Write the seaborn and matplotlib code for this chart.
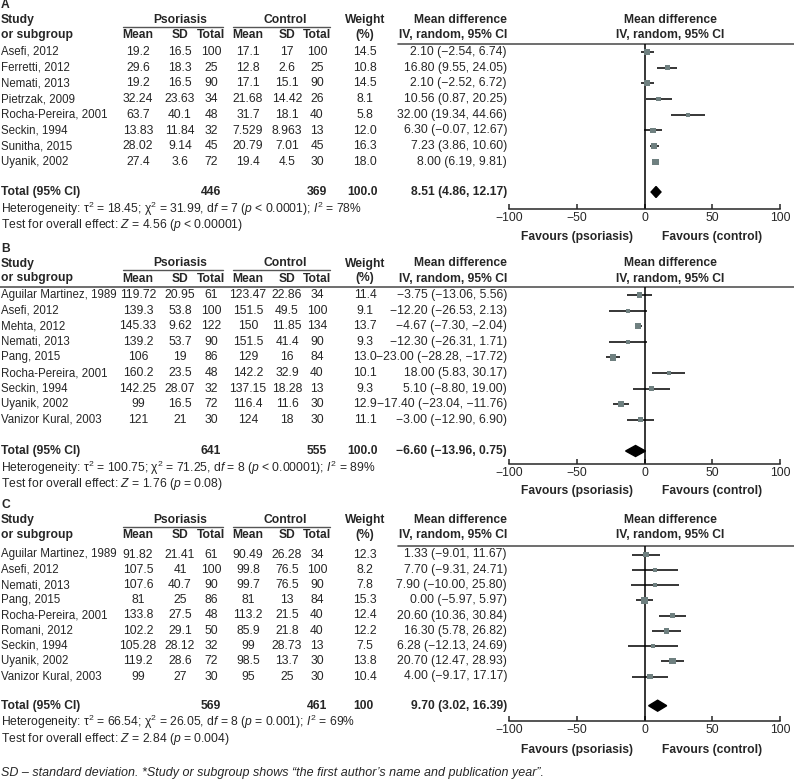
import matplotlib
matplotlib.use('Agg')
import matplotlib.pyplot as plt
import seaborn as sns
from matplotlib import font_manager

# Panel A
a_study = ['Asefi, 2012', 'Ferretti, 2012', 'Nemati, 2013', 'Pietrzak, 2009',
           'Rocha-Pereira, 2001', 'Seckin, 1994', 'Sunitha, 2015', 'Uyanik, 2002']
a_ps_mean = [19.2, 29.6, 19.2, 32.24, 63.7, 13.83, 28.02, 27.4]
a_ps_sd = [16.5, 18.3, 16.5, 23.63, 40.1, 11.84, 9.14, 3.6]
a_ps_n = [100, 25, 90, 34, 48, 32, 45, 72]
a_ct_mean = [17.1, 12.8, 17.1, 21.68, 31.7, 7.529, 20.79, 19.4]
a_ct_sd = [17, 2.6, 15.1, 14.42, 18.1, 8.963, 7.01, 4.5]
a_ct_n = [100, 25, 90, 26, 40, 13, 45, 30]
a_weight = [14.5, 10.8, 14.5, 8.1, 5.8, 12.0, 16.3, 18.0]
a_md = [2.10, 16.80, 2.10, 10.56, 32.00, 6.30, 7.23, 8.00]
a_lo = [-2.54, 9.55, -2.52, 0.87, 19.34, -0.07, 3.86, 6.19]
a_hi = [6.74, 24.05, 6.72, 20.25, 44.66, 12.67, 10.60, 9.81]
a_total = ['446', '369', '100.0']
a_pooled = [8.51, 4.86, 12.17]
a_het = r"Heterogeneity: τ$^2$ = 18.45; χ$^2$ = 31.99, d$f$ = 7 ($p$ < 0.0001); $I^2$ = 78%"
a_test = r"Test for overall effect: $Z$ = 4.56 ($p$ < 0.00001)"

# Panel B
b_study = ['Aguilar Martinez, 1989', 'Asefi, 2012', 'Mehta, 2012', 'Nemati, 2013', 'Pang, 2015',
           'Rocha-Pereira, 2001', 'Seckin, 1994', 'Uyanik, 2002', 'Vanizor Kural, 2003']
b_ps_mean = [119.72, 139.3, 145.33, 139.2, 106, 160.2, 142.25, 99, 121]
b_ps_sd = [20.95, 53.8, 9.62, 53.7, 19, 23.5, 28.07, 16.5, 21]
b_ps_n = [61, 100, 122, 90, 86, 48, 32, 72, 30]
b_ct_mean = [123.47, 151.5, 150, 151.5, 129, 142.2, 137.15, 116.4, 124]
b_ct_sd = [22.86, 49.5, 11.85, 41.4, 16, 32.9, 18.28, 11.6, 18]
b_ct_n = [34, 100, 134, 90, 84, 40, 13, 30, 30]
b_weight = [11.4, 9.1, 13.7, 9.3, 13.0, 10.1, 9.3, 12.9, 11.1]
b_md = [-3.75, -12.20, -4.67, -12.30, -23.00, 18.00, 5.10, -17.40, -3.00]
b_lo = [-13.06, -26.53, -7.30, -26.31, -28.28, 5.83, -8.80, -23.04, -12.90]
b_hi = [5.56, 2.13, -2.04, 1.71, -17.72, 30.17, 19.00, -11.76, 6.90]
b_total = ['641', '555', '100.0']
b_pooled = [-6.60, -13.96, 0.75]
b_het = r"Heterogeneity: τ$^2$ = 100.75; χ$^2$ = 71.25, d$f$ = 8 ($p$ < 0.00001); $I^2$ = 89%"
b_test = r"Test for overall effect: $Z$ = 1.76 ($p$ = 0.08)"

# Panel C
c_study = ['Aguilar Martinez, 1989', 'Asefi, 2012', 'Nemati, 2013', 'Pang, 2015', 'Rocha-Pereira, 2001',
           'Romani, 2012', 'Seckin, 1994', 'Uyanik, 2002', 'Vanizor Kural, 2003']
c_ps_mean = [91.82, 107.5, 107.6, 81, 133.8, 102.2, 105.28, 119.2, 99]
c_ps_sd = [21.41, 41, 40.7, 25, 27.5, 29.1, 28.12, 28.6, 27]
c_ps_n = [61, 100, 90, 86, 48, 50, 32, 72, 30]
c_ct_mean = [90.49, 99.8, 99.7, 81, 113.2, 85.9, 99, 98.5, 95]
c_ct_sd = [26.28, 76.5, 76.5, 13, 21.5, 21.8, 28.73, 13.7, 25]
c_ct_n = [34, 100, 90, 84, 40, 40, 13, 30, 30]
c_weight = [12.3, 8.2, 7.8, 15.3, 12.4, 12.2, 7.5, 13.8, 10.4]
c_md = [1.33, 7.70, 7.90, 0.00, 20.60, 16.30, 6.28, 20.70, 4.00]
c_lo = [-9.01, -9.31, -10.00, -5.97, 10.36, 5.78, -12.13, 12.47, -9.17]
c_hi = [11.67, 24.71, 25.80, 5.97, 30.84, 26.82, 24.69, 28.93, 17.17]
c_total = ['569', '461', '100']
c_pooled = [9.70, 3.02, 16.39]
c_het = r"Heterogeneity: τ$^2$ = 66.54; χ$^2$ = 26.05, d$f$ = 8 ($p$ = 0.001); $I^2$ = 69%"
c_test = r"Test for overall effect: $Z$ = 2.84 ($p$ = 0.004)"

footnote = 'SD – standard deviation. *Study or subgroup shows “the first author’s name and publication year”.'

sns.set_style('white')
names = {f.name for f in font_manager.fontManager.ttflist}
FONT = 'Liberation Sans Narrow' if 'Liberation Sans Narrow' in names else 'Liberation Sans'
plt.rcParams['font.family'] = [FONT, 'DejaVu Sans']
plt.rcParams['mathtext.fontset'] = 'custom'
plt.rcParams['mathtext.rm'] = FONT
plt.rcParams['mathtext.it'] = FONT + ':italic'
plt.rcParams['mathtext.bf'] = FONT + ':bold'

W, H = 794, 781
FS = 8.7 if FONT == 'Liberation Sans' else 9.5
FS_NAME = FS - 0.4
COLX = [138, 180, 211, 248, 287, 317, 365]
MD_X = 507
X_LO, X_HI = 509, 780
SQ = '#6f8080'

fig = plt.figure(figsize=(W / 100, H / 100), dpi=100)
bg = fig.add_axes([0, 0, 1, 1])
bg.set_xlim(0, W)
bg.set_ylim(H, 0)
bg.axis('off')


def txt(x, y, s, size=None, **kw):
    kw.setdefault('ha', 'left')
    bg.text(x, y, s, va='center', fontsize=size or FS, **kw)


def md_str(m, l, h):
    return f"{m:.2f} ({l:.2f}, {h:.2f})".replace('-', '\u2212')


def panel(label, lay, study, cols, weight, md, lo, hi, total, pooled, het, test):
    top = lay['top']
    ys = [lay['row0'] + i * lay['step'] for i in range(len(study))]
    # en-tetes
    txt(1, top, label, fontweight='bold')
    txt(1, top + 15, 'Study', fontweight='bold')
    txt(1, top + 30, 'or subgroup', fontweight='bold')
    txt(180, top + 15, 'Psoriasis', ha='center', fontweight='bold')
    txt(285, top + 15, 'Control', ha='center', fontweight='bold')
    bg.plot([123, 223], [top + 21.5] * 2, color='#555555', lw=1)
    bg.plot([233, 330], [top + 21.5] * 2, color='#555555', lw=1)
    for x, h in zip(COLX, ['Mean', 'SD', 'Total', 'Mean', 'SD', 'Total', '(%)']):
        txt(x, top + 30, h, ha='center', fontweight='bold')
    txt(365, top + 15, 'Weight', ha='center', fontweight='bold')
    txt(MD_X, top + 15, 'Mean difference', ha='right', fontweight='bold')
    txt(MD_X, top + 30, 'IV, random, 95% CI', ha='right', fontweight='bold')
    txt(670, top + 15, 'Mean difference', ha='center', fontweight='bold')
    txt(670, top + 30, 'IV, random, 95% CI', ha='center', fontweight='bold')
    bg.plot([lay['line_x0'], W], [lay['line']] * 2, color='#555555', lw=1.2)

    # lignes des etudes
    for i, y in enumerate(ys):
        txt(1, y, study[i], size=FS_NAME)
        for x, col in zip(COLX[:6], cols):
            txt(x, y, f"{col[i]:g}", ha='center')
        txt(365, y, f"{weight[i]:.1f}", ha='center')
        txt(MD_X, y, md_str(md[i], lo[i], hi[i]), ha='right')

    # total
    ty = lay['total']
    txt(1, ty, 'Total (95% CI)', fontweight='bold')
    for x, s in zip([211, 317, 363], total):
        txt(x, ty, s, ha='center', fontweight='bold')
    txt(MD_X, ty, md_str(*pooled), ha='right', fontweight='bold')
    txt(1, ty + 16.5, het)
    txt(1, ty + 33, test)

    # forest plot
    ax = fig.add_axes([X_LO / W, 1 - lay['axis'] / H, (X_HI - X_LO) / W, (lay['axis'] - lay['line']) / H])
    ax.patch.set_alpha(0)
    ax.hlines(ys, lo, hi, color='black', lw=1.1, zorder=2)
    sns.scatterplot(x=md, y=ys, size=weight, sizes=(9, 22), marker='s', color=SQ,
                    linewidth=0, legend=False, ax=ax, zorder=3)
    m, l, h = pooled
    ax.fill([l, m, h, m], [ty, ty - 5.5, ty, ty + 5.5], color='black', zorder=3)
    ax.axvline(0, color='black', lw=1.1, zorder=1)
    ax.set_xlim(-100, 100)
    ax.set_ylim(lay['axis'], lay['line'])
    for s in ['top', 'left', 'right']:
        ax.spines[s].set_visible(False)
    ax.spines['bottom'].set_linewidth(1.1)
    ax.set_xticks([-100, -50, 0, 50, 100])
    ax.set_yticks([])
    ax.tick_params(axis='x', direction='in', length=3.5, width=1.1, pad=2.5, labelsize=FS, bottom=True)
    ax.set_xlabel('')
    ax.set_ylabel('')
    ax.text(-50, lay['fav'], 'Favours (psoriasis)', ha='center', va='center', fontsize=FS, fontweight='bold')
    ax.text(50, lay['fav'], 'Favours (control)', ha='center', va='center', fontsize=FS, fontweight='bold')


lay_a = dict(top=5, line=44, line_x0=398, row0=52, step=15.7, total=192, axis=209, fav=237)
lay_b = dict(top=248.5, line=287, line_x0=0, row0=295, step=15.6, total=451, axis=463.5, fav=491)
lay_c = dict(top=505, line=546, line_x0=398, row0=554.5, step=15.25, total=705.7, axis=720.7, fav=750)

panel('A', lay_a, a_study, [a_ps_mean, a_ps_sd, a_ps_n, a_ct_mean, a_ct_sd, a_ct_n],
      a_weight, a_md, a_lo, a_hi, a_total, a_pooled, a_het, a_test)
panel('B', lay_b, b_study, [b_ps_mean, b_ps_sd, b_ps_n, b_ct_mean, b_ct_sd, b_ct_n],
      b_weight, b_md, b_lo, b_hi, b_total, b_pooled, b_het, b_test)
panel('C', lay_c, c_study, [c_ps_mean, c_ps_sd, c_ps_n, c_ct_mean, c_ct_sd, c_ct_n],
      c_weight, c_md, c_lo, c_hi, c_total, c_pooled, c_het, c_test)

txt(1, 773, footnote, size=FS + 0.3, style='italic')

fig.savefig('out.png', dpi=100)
